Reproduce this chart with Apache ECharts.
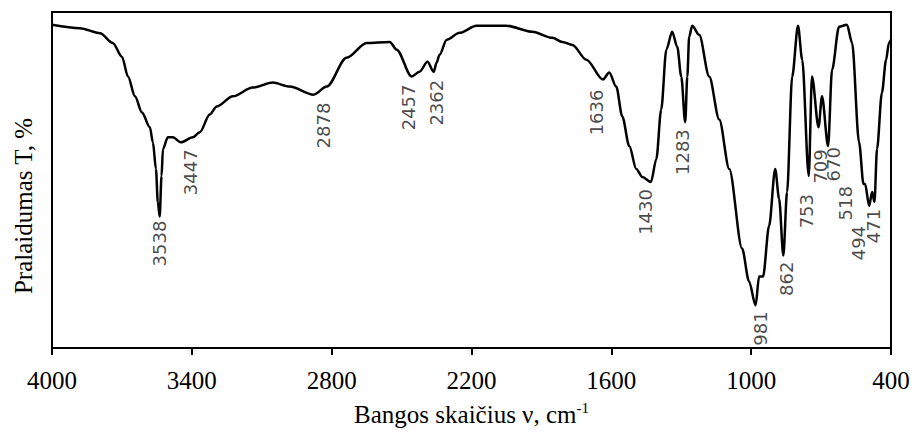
<!DOCTYPE html>
<html>
<head>
<meta charset="utf-8">
<script src="https://cdn.jsdelivr.net/npm/echarts@6/dist/echarts.min.js"></script>
<style>
html,body{margin:0;padding:0;background:#fff;}
#chart{width:915px;height:432px;}
</style>
</head>
<body>
<div id="chart"></div>
<script>
// ---- data ----
var wavenumbers = [4000,3880,3794,3739,3700,3674,3644,3614,3580,3567,
  3554,3546,3538,3530,3524,3503,3481,3447,3396,3366,
  3323,3293,3224,3139,3053,2980,2878,2821,2736,2650,
  2551,2521,2457,2423,2389,2362,2350,2337,2307,2251,
  2179,2050,1939,1853,1810,1767,1707,1636,1609,1579,
  1553,1523,1493,1467,1430,1407,1386,1364,1339,1317,
  1300,1283,1274,1266,1253,1223,1180,1137,1094,1039,
  1009,981,966,949,923,897,880,862,846,824,
  799,781,753,739,711,696,670,653,623,589,
  567,537,518,511,494,481,471,460,439,421,
  409,400];
var transmittance = [96.2,95.2,93.7,90.8,86.7,80.8,74.9,70.1,65.7,61.2,
  53.3,43.5,39.1,51.2,59.2,62.7,62.7,61.2,62.7,64.2,
  69.5,71.9,74.9,77.5,79.0,77.8,75.4,77.8,86.4,90.8,
  91.1,88.8,80.8,82.2,85.2,82.2,84.9,87.3,91.7,93.8,
  95.9,95.9,94.1,92.3,91.1,90.2,85.8,79.9,82.0,77.8,
  68.9,60.1,53.3,50.9,49.4,56.2,71.0,88.8,94.1,89.6,
  80.8,67.2,80.8,92.6,95.9,93.2,80.8,68.0,53.3,29.6,
  19.8,12.7,21.3,21.3,36.4,53.3,44.4,27.5,46.4,80.8,
  95.9,85.8,51.2,80.8,65.7,74.9,60.1,82.8,95.6,96.2,
  90.8,61.2,48.8,48.8,42.3,46.4,43.5,59.2,76.0,85.8,
  90.8,91.7];
var peakWavenumbers = [3538,3447,2878,2457,2362,1636,1430,1283,981,862,753,709,670,518,494,471];
var peakTransmittance = [39.1,61.2,75.4,80.8,82.2,79.9,49.4,67.2,12.7,27.5,51.2,65.7,60.1,48.8,42.3,43.5];
var xTicks = [400,1000,1600,2200,2800,3400,4000];

// ---- styling (pixel shifts of the peak labels relative to their peak) ----
var labelShift = [[0,4],[10,7],[10,8],[-3,8],[3,8],[-6,10],[-5,7],[-3,7],[5,6],[3,6],[-2,18],[2,22],[5,1],[-18,2],[-11,20],[-1,7]];

var lineData = wavenumbers.map(function(w,i){return [w, transmittance[i]];});
var peakData = peakWavenumbers.map(function(w,i){
  return {value:[w, peakTransmittance[i]], label:{position:[labelShift[i][0]+0.5, labelShift[i][1]+0.5]}};
});

var serif = "'Liberation Serif','Times New Roman',serif";
var chart = echarts.init(document.getElementById('chart'), null, {renderer:'svg'});
chart.setOption({
  animation:false,
  backgroundColor:'#fff',
  grid:{left:52,right:24,top:12,bottom:82,show:true,borderColor:'#000',borderWidth:2,backgroundColor:'transparent'},
  xAxis:{
    type:'value', inverse:true, min:xTicks[0], max:xTicks[xTicks.length-1], interval:600,
    axisLine:{show:true,onZero:false,lineStyle:{color:'#000',width:2}},
    axisTick:{show:true,inside:false,length:7,lineStyle:{color:'#000',width:2}},
    axisLabel:{show:true,margin:20,color:'#000',fontFamily:serif,fontSize:25,
      formatter:function(v){return String(v);}},
    splitLine:{show:false},
    name:'Bangos skaičius ν, cm{sup|-1}',
    nameLocation:'middle', nameGap:52,
    nameTextStyle:{color:'#000',fontFamily:serif,fontSize:25,
      rich:{sup:{fontFamily:serif,fontSize:15,color:'#000',padding:[0,0,14,0]}}}
  },
  yAxis:{
    type:'value', min:0, max:100,
    axisLine:{show:true,onZero:false,lineStyle:{color:'#000',width:2}},
    axisTick:{show:false}, axisLabel:{show:false}, splitLine:{show:false},
    name:'Pralaidumas T, %', nameLocation:'middle', nameGap:16,
    nameTextStyle:{color:'#000',fontFamily:serif,fontSize:25,padding:[0,52,0,0]}
  },
  series:[
    {type:'line', data:lineData, showSymbol:false, smooth:0.3, smoothMonotone:'x',
     lineStyle:{color:'#000',width:2.5}, silent:true, z:3},
    {type:'scatter', data:peakData, symbolSize:1, itemStyle:{color:'rgba(0,0,0,0)'}, silent:true, z:4,
     label:{show:true, rotate:90, align:'right', verticalAlign:'middle',
       formatter:function(p){return String(p.value[0]);},
       color:'#1a1a1a', fontFamily:"'DejaVu Sans',sans-serif", fontSize:18}}
  ]
});
</script>
</body>
</html>
